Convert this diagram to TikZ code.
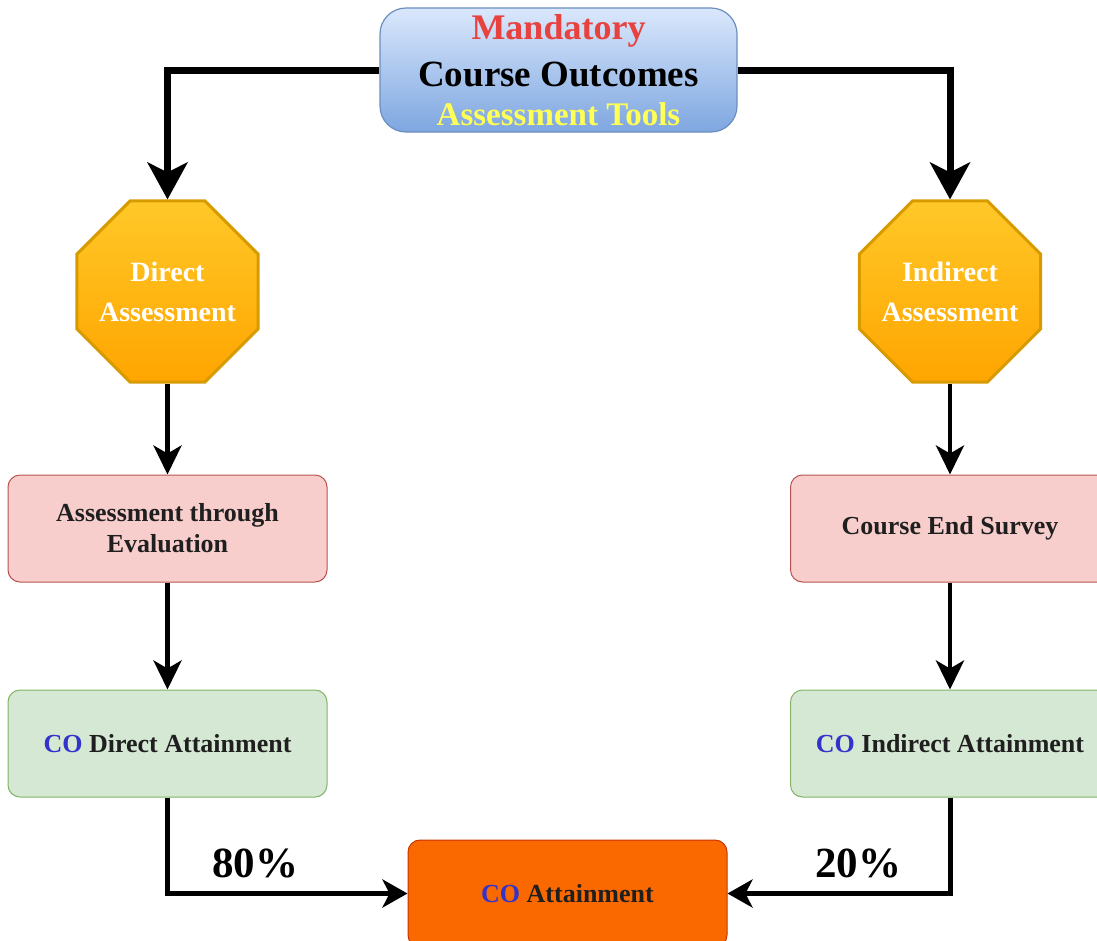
\documentclass[tikz,border=0pt]{standalone}
\usepackage{fontspec}
\setmainfont{Liberation Serif}
\usetikzlibrary{arrows.meta,shapes.geometric}
\definecolor{topborder}{HTML}{6C8EBF}
\definecolor{toplight}{HTML}{DAE8FC}
\definecolor{topdark}{HTML}{7EA6E0}
\definecolor{mandred}{HTML}{E8413E}
\definecolor{toolyel}{HTML}{FFFF55}
\definecolor{octtop}{HTML}{FFC828}
\definecolor{octbot}{HTML}{FFA500}
\definecolor{octborder}{HTML}{D79B00}
\definecolor{pinkfill}{HTML}{F8CECC}
\definecolor{pinkborder}{HTML}{B85450}
\definecolor{greenfill}{HTML}{D5E8D4}
\definecolor{greenborder}{HTML}{82B366}
\definecolor{orangefill}{HTML}{FA6800}
\definecolor{orangeborder}{HTML}{C73500}
\definecolor{coblue}{HTML}{3333CC}
\tikzset{
  octo/.style={regular polygon, regular polygon sides=8, minimum size=196pt, inner sep=0pt,
    draw=octborder, line width=3pt, top color=octtop, bottom color=octbot},
  octotext/.style={text=white, align=center, inner sep=0pt, font=\bfseries\fontsize{28}{40}\selectfont},
  pinkbox/.style={draw=pinkborder, fill=pinkfill, line width=1pt, rounded corners=12pt,
    minimum width=319pt, minimum height=107pt, inner sep=0pt, align=center,
    font=\bfseries\fontsize{26}{31}\selectfont, text=black!88},
  greenbox/.style={pinkbox, draw=greenborder, fill=greenfill},
  finalbox/.style={pinkbox, draw=orangeborder, fill=orangefill},
  bigarrow/.style={line width=7pt, -{Stealth[length=37pt, width=40pt, inset=10pt]}},
  midarrow/.style={line width=4.5pt, -{Stealth[length=29pt, width=28pt, inset=8pt]}},
  botarrow/.style={line width=5pt, -{Stealth[length=25pt, width=28pt, inset=7pt]}},
  pct/.style={font=\bfseries\fontsize{43}{50}\selectfont, inner sep=0pt}
}
\begin{document}
\begin{tikzpicture}[x=1pt, y=-1pt]
\useasboundingbox (0,0) rectangle (1097,940);
\clip (0,0) rectangle (1097,940);
% top node
\node[draw=topborder, line width=1.2pt, rounded corners=26pt, top color=toplight, bottom color=topdark,
  minimum width=357pt, minimum height=124pt, inner sep=0pt] (top) at (558.5,70) {};
\node[font=\bfseries\fontsize{36}{40}\selectfont, text=mandred, inner sep=0pt] (mand) at (558.5,31) {Mandatory};
\node[font=\bfseries\fontsize{37}{40}\selectfont, text=black, inner sep=0pt] (cout) at (558.5,74) {Course Outcomes};
\node[font=\bfseries\fontsize{33}{40}\selectfont, text=toolyel, inner sep=0pt] (tools) at (558.5,114) {Assessment Tools};
% octagons
\node[octo] (dir) at (167.5,291.5) {};
\node[octotext] (dirtxt) at (dir.center) {Direct\\Assessment};
\node[octo] (ind) at (950,291.5) {};
\node[octotext] (indtxt) at (ind.center) {Indirect\\Assessment};
% pink boxes
\node[pinkbox] (eval) at (167.5,528.5) {Assessment through\\Evaluation};
\node[pinkbox] (survey) at (950,528.5) {Course End Survey};
% green boxes
\node[greenbox] (datt) at (167.5,743.5) {\textcolor{coblue}{CO} Direct Attainment};
\node[greenbox] (iatt) at (950,743.5) {\textcolor{coblue}{CO} Indirect Attainment};
% final
\node[finalbox] (final) at (567.5,893.5) {\textcolor{coblue}{CO} Attainment};
% connectors
\draw[bigarrow] (top.west) -| (dir.north);
\draw[bigarrow] (top.east) -| (ind.north);
\draw[midarrow] (dir.south) -- (eval.north);
\draw[midarrow] (ind.south) -- (survey.north);
\draw[midarrow] (eval.south) -- (datt.north);
\draw[midarrow] (survey.south) -- (iatt.north);
\draw[botarrow] (datt.south) |- (final.west);
\draw[botarrow] (iatt.south) |- (final.east);
% labels
\node[pct] (p80) at (255,863) {80\%};
\node[pct] (p20) at (858,863) {20\%};
\end{tikzpicture}
\end{document}
